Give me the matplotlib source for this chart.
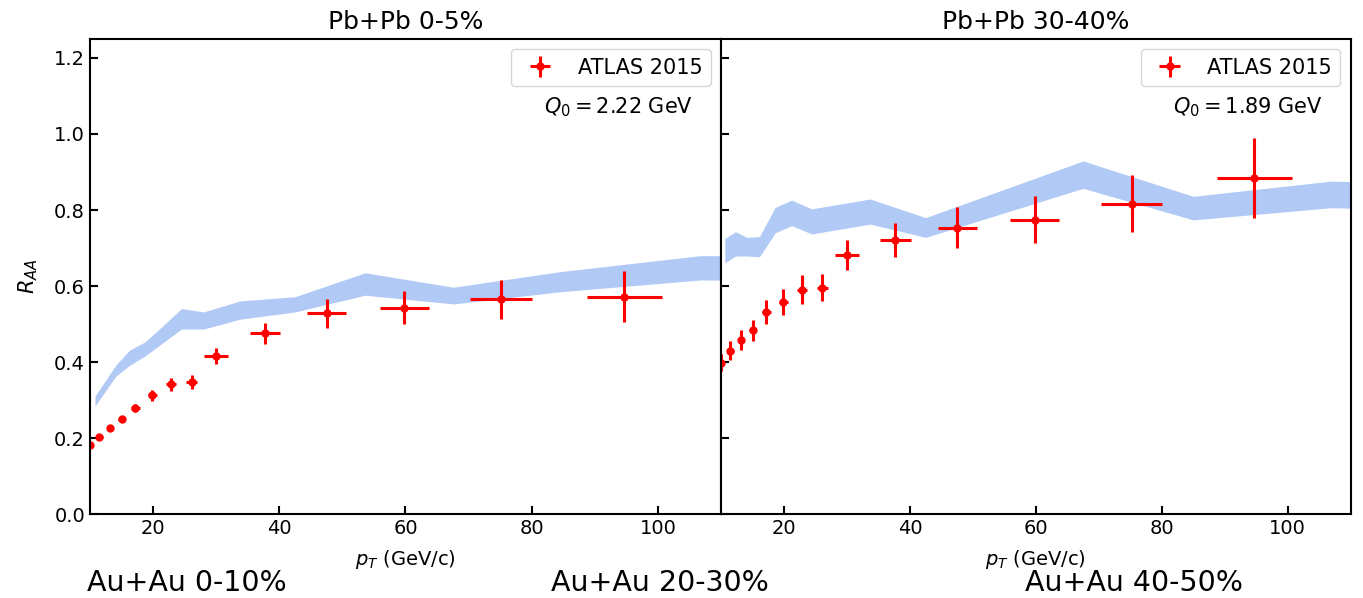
import matplotlib
matplotlib.use("Agg")
import matplotlib.pyplot as plt

# ATLAS 2015 points (shared pT bins)
pt = [10.0, 11.5, 13.2, 15.0, 17.2, 19.9, 22.8, 26.1, 30.0, 37.7, 47.5, 59.8, 75.2, 94.7]
pt_err = [0.4, 0.5, 0.5, 0.6, 0.7, 0.75, 0.8, 0.9, 1.9, 2.4, 3.1, 3.9, 4.9, 6.0]

raa_central = [0.182, 0.203, 0.226, 0.251, 0.279, 0.313, 0.342, 0.347, 0.416, 0.476, 0.528, 0.543, 0.565, 0.572]
raa_central_err = [0.006, 0.006, 0.007, 0.008, 0.010, 0.015, 0.017, 0.018, 0.021, 0.027, 0.038, 0.044, 0.052, 0.067]

raa_peripheral = [0.399, 0.430, 0.458, 0.484, 0.531, 0.558, 0.591, 0.596, 0.682, 0.721, 0.754, 0.775, 0.816, 0.885]
raa_peripheral_err = [0.022, 0.025, 0.026, 0.028, 0.032, 0.034, 0.037, 0.036, 0.040, 0.045, 0.054, 0.061, 0.075, 0.105]

# model bands
band_pt_central = [10.8, 14.1, 16.3, 18.7, 21.4, 24.5, 28.0, 33.8, 42.5, 53.6, 67.6, 84.5, 106.7, 112]
band_hi_central = [0.311, 0.392, 0.432, 0.453, 0.493, 0.541, 0.532, 0.561, 0.572, 0.635, 0.597, 0.638, 0.680, 0.680]
band_lo_central = [0.285, 0.363, 0.392, 0.416, 0.449, 0.487, 0.487, 0.513, 0.532, 0.576, 0.553, 0.585, 0.616, 0.616]

band_pt_peripheral = [10.6, 12.3, 14.1, 16.1, 18.6, 21.2, 24.4, 33.7, 42.5, 67.5, 85.0, 106.9, 112]
band_hi_peripheral = [0.725, 0.743, 0.728, 0.730, 0.807, 0.826, 0.803, 0.829, 0.780, 0.929, 0.836, 0.876, 0.874]
band_lo_peripheral = [0.661, 0.679, 0.679, 0.677, 0.740, 0.759, 0.737, 0.763, 0.728, 0.857, 0.774, 0.806, 0.804]

titles = ["Pb+Pb 0-5%", "Pb+Pb 30-40%"]
q0_labels = ["$Q_0 = 2.22$ GeV", "$Q_0 = 1.89$ GeV"]
au_labels = ["Au+Au 0-10%", "Au+Au 20-30%", "Au+Au 40-50%"]

fig = plt.figure(figsize=(13.63, 5.98), dpi=100)
ax_left = fig.add_axes([0.066, 0.140, 0.463, 0.795])
ax_right = fig.add_axes([0.529, 0.140, 0.462, 0.795], sharey=ax_left)

panels = [
    (ax_left, band_pt_central, band_lo_central, band_hi_central, raa_central, raa_central_err),
    (ax_right, band_pt_peripheral, band_lo_peripheral, band_hi_peripheral, raa_peripheral, raa_peripheral_err),
]

for i, (ax, bx, blo, bhi, y, yerr) in enumerate(panels):
    ax.fill_between(bx, blo, bhi, color="cornflowerblue", alpha=0.5, lw=0)
    ax.errorbar(pt, y, xerr=pt_err, yerr=yerr, fmt="o", color="red", ms=5,
                elinewidth=2.2, capsize=0, label="ATLAS 2015")
    ax.set_xlim(10, 110)
    ax.set_ylim(0, 1.25)
    ax.set_xticks([20, 40, 60, 80, 100])
    ax.set_yticks([0.0, 0.2, 0.4, 0.6, 0.8, 1.0, 1.2])
    ax.tick_params(direction="in", length=6, width=1.5, labelsize=14)
    for sp in ax.spines.values():
        sp.set_linewidth(1.5)
    ax.set_title(titles[i], fontsize=18, pad=7)
    ax.set_xlabel("$p_T$ (GeV/c)", fontsize=14, labelpad=7)
    ax.legend(loc="upper right", fontsize=15)
    ax.text(0.956, 0.857, q0_labels[i], transform=ax.transAxes,
            ha="right", va="center", fontsize=15)

ax_left.yaxis.set_major_formatter(plt.FormatStrFormatter("%.1f"))
ax_left.set_ylabel("$R_{AA}$", fontsize=15, labelpad=10)
ax_right.tick_params(labelleft=False)

fig.text(0.064, 0.025, au_labels[0], fontsize=20.5, ha="left", va="center")
fig.text(0.404, 0.025, au_labels[1], fontsize=20.5, ha="left", va="center")
fig.text(0.752, 0.025, au_labels[2], fontsize=20.5, ha="left", va="center")

fig.savefig("out.png", dpi=100)
plt.close(fig)
